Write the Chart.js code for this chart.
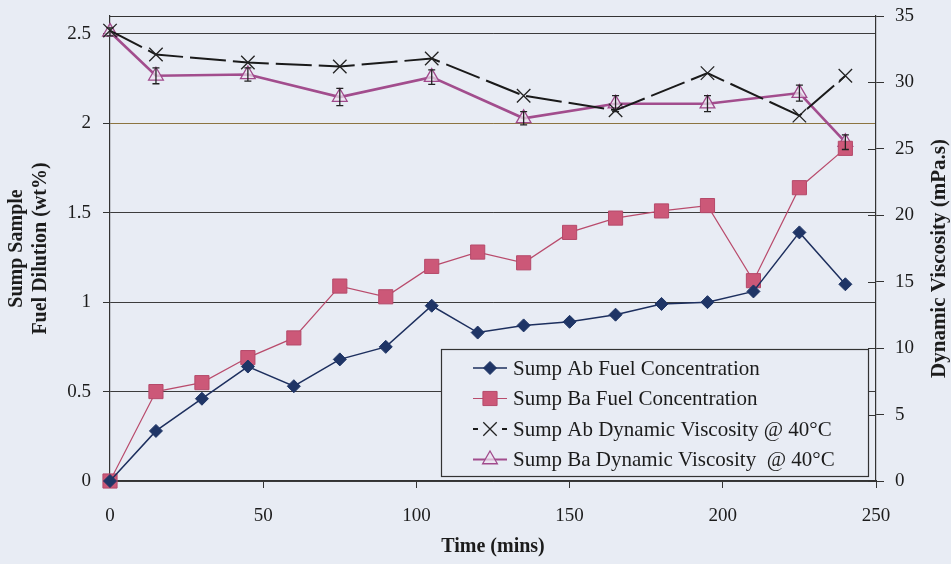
<!DOCTYPE html>
<html>
<head>
<meta charset="utf-8">
<script src="https://cdn.jsdelivr.net/npm/chart.js@4.4.0/dist/chart.umd.min.js"></script>
<style>
  html, body { margin: 0; padding: 0; background: #e8ecf4; }
  #wrap { width: 951px; height: 564px; }
</style>
</head>
<body>
<div id="wrap"><canvas id="fuelChart" width="951" height="564"></canvas></div>
<script>
// --- DATA ---
const timeMins = [0, 15, 30, 45, 60, 75, 90, 105, 120, 135, 150, 165, 180, 195, 210, 225, 240];
const abFuel = [0, 0.28, 0.46, 0.64, 0.53, 0.68, 0.75, 0.98, 0.83, 0.87, 0.89, 0.93, 0.99, 1.00, 1.06, 1.39, 1.10];
const baFuel = [0, 0.50, 0.55, 0.69, 0.80, 1.09, 1.03, 1.20, 1.28, 1.22, 1.39, 1.47, 1.51, 1.54, 1.12, 1.64, 1.86];

const viscTime = [0, 15, 45, 75, 105, 135, 165, 195, 225, 240];
const abVisc = [33.9, 32.1, 31.5, 31.2, 31.8, 29.0, 27.9, 30.7, 27.5, 30.5];
const baVisc = [33.8, 30.5, 30.6, 28.9, 30.4, 27.3, 28.4, 28.4, 29.2, 25.5];
const baViscErr = [0.3, 0.6, 0.5, 0.65, 0.55, 0.5, 0.6, 0.6, 0.6, 0.55];

const xTicks = [0, 50, 100, 150, 200, 250];
const fuelTicks = [0, 0.5, 1, 1.5, 2, 2.5];
const viscTicks = [0, 5, 10, 15, 20, 25, 30, 35];

const legendLabels = [
    'Sump Ab Fuel Concentration',
    'Sump Ba Fuel Concentration',
    'Sump Ab Dynamic Viscosity @ 40°C',
    'Sump Ba Dynamic Viscosity  @ 40°C'
];

const BG = '#e8ecf4';
const INK = '#1c1c1c';
const SERIF = '"Liberation Serif", "Times New Roman", serif';

const toPoints = (xs, ys) => xs.map((x, i) => ({ x: x, y: ys[i] }));
const fixedTicks = (values) => (scale) => { scale.ticks = values.map(v => ({ value: v })); };
const plainLabel = (v) => String(v);

// fixed box sizes so the plot area sits where the original one does
const fitVertical = (w) => (s) => { s.width = w; s.paddingTop = 0; s.paddingBottom = 0; };
const fitHorizontal = (h) => (s) => { s.height = h; s.paddingLeft = 0; s.paddingRight = 0; };

// --- MARKERS (legend) ---
const drawMarker = (ctx, style, x, y, ds) => {
    ctx.save();
    ctx.fillStyle = ds.pointBackgroundColor;
    ctx.strokeStyle = ds.pointBorderColor;
    ctx.lineWidth = ds.pointBorderWidth;
    const r = ds.pointRadius;
    ctx.beginPath();
    if (style === 'rectRot') {
        ctx.moveTo(x, y - r); ctx.lineTo(x + r, y); ctx.lineTo(x, y + r); ctx.lineTo(x - r, y); ctx.closePath();
        ctx.fill(); ctx.stroke();
    } else if (style === 'rect') {
        const s = r * Math.SQRT1_2;
        ctx.rect(x - s, y - s, 2 * s, 2 * s); ctx.fill(); ctx.stroke();
    } else if (style === 'crossRot') {
        const s = r * Math.SQRT1_2;
        ctx.moveTo(x - s, y - s); ctx.lineTo(x + s, y + s);
        ctx.moveTo(x + s, y - s); ctx.lineTo(x - s, y + s); ctx.stroke();
    } else if (style === 'triangle') {
        ctx.moveTo(x, y - r);
        ctx.lineTo(x + r * Math.sin(2 * Math.PI / 3), y - r * Math.cos(2 * Math.PI / 3));
        ctx.lineTo(x - r * Math.sin(2 * Math.PI / 3), y - r * Math.cos(2 * Math.PI / 3));
        ctx.closePath(); ctx.fill(); ctx.stroke();
    }
    ctx.restore();
};

// --- PLUGINS ---
const paperPlugin = {
    id: 'paper',
    beforeDraw(chart) {
        const c = chart.ctx;
        c.save();
        c.fillStyle = BG;
        c.fillRect(0, 0, chart.width, chart.height);
        c.restore();
    }
};

const framePlugin = {
    id: 'frame',
    beforeDatasetsDraw(chart) {
        const { ctx, chartArea } = chart;
        const y1 = chart.scales.y1;
        ctx.save();
        ctx.strokeStyle = '#333';
        ctx.lineWidth = 1;
        ctx.beginPath();
        ctx.moveTo(chartArea.left, chartArea.top + 0.5);
        ctx.lineTo(chartArea.right, chartArea.top + 0.5);
        // inner half of the right axis tick marks
        y1.ticks.forEach(t => {
            const py = Math.round(y1.getPixelForValue(t.value)) + 0.5;
            ctx.moveTo(chartArea.right - 8, py);
            ctx.lineTo(chartArea.right, py);
        });
        ctx.stroke();
        ctx.restore();
    }
};

const errorBarPlugin = {
    id: 'errorBars',
    afterDatasetsDraw(chart) {
        const { ctx } = chart;
        const y1 = chart.scales.y1;
        const xs = chart.scales.x;
        ctx.save();
        ctx.strokeStyle = '#222';
        ctx.lineWidth = 1.3;
        ctx.beginPath();
        viscTime.forEach((t, i) => {
            const px = xs.getPixelForValue(t);
            const top = y1.getPixelForValue(baVisc[i] + baViscErr[i]);
            const bot = y1.getPixelForValue(baVisc[i] - baViscErr[i]);
            ctx.moveTo(px, top); ctx.lineTo(px, bot);
            ctx.moveTo(px - 3.5, top); ctx.lineTo(px + 3.5, top);
            ctx.moveTo(px - 3.5, bot); ctx.lineTo(px + 3.5, bot);
        });
        ctx.stroke();
        ctx.restore();
    }
};

const boxLegendPlugin = {
    id: 'boxLegend',
    afterDraw(chart) {
        const { ctx, chartArea } = chart;
        const boxX = 441, boxY = 349;
        const boxW = chartArea.right - 8 - boxX, boxH = 127;
        ctx.save();
        ctx.fillStyle = BG;
        ctx.fillRect(boxX, boxY, boxW, boxH);
        ctx.strokeStyle = '#333';
        ctx.lineWidth = 1.2;
        ctx.strokeRect(boxX + 0.5, boxY + 0.5, boxW, boxH);

        ctx.font = '21px ' + SERIF;
        ctx.textBaseline = 'middle';
        ctx.textAlign = 'left';
        chart.data.datasets.forEach((ds, i) => {
            const rowY = boxY + 19 + i * 30.5;
            const mx = boxX + 49;
            ctx.save();
            ctx.strokeStyle = ds.borderColor;
            ctx.lineWidth = Math.min(ds.borderWidth, 2);
            if (ds.borderDash) ctx.setLineDash([5, 24]);
            ctx.beginPath();
            ctx.moveTo(mx - 17, rowY);
            ctx.lineTo(mx + 17, rowY);
            ctx.stroke();
            ctx.restore();
            drawMarker(ctx, ds.pointStyle, mx, rowY, ds);
            ctx.fillStyle = INK;
            ctx.fillText(legendLabels[i], boxX + 72, rowY + 1);
        });

        // right axis title, reading bottom to top
        ctx.font = 'bold 21px ' + SERIF;
        ctx.textAlign = 'center';
        ctx.textBaseline = 'middle';
        ctx.fillStyle = INK;
        ctx.translate(940, (chartArea.top + chartArea.bottom) / 2 + 10);
        ctx.rotate(-Math.PI / 2);
        ctx.fillText('Dynamic Viscosity (mPa.s)', 0, 0);
        ctx.restore();
    }
};

// --- CHART ---
const ctx = document.getElementById('fuelChart').getContext('2d');

new Chart(ctx, {
    type: 'line',
    data: {
        datasets: [
            {
                label: legendLabels[0],
                data: toPoints(timeMins, abFuel),
                yAxisID: 'y',
                borderColor: '#1d2f5e',
                borderWidth: 1.5,
                pointStyle: 'rectRot',
                pointRadius: 6.5,
                pointBackgroundColor: '#1f3566',
                pointBorderColor: '#1f3566',
                pointBorderWidth: 1
            },
            {
                label: legendLabels[1],
                data: toPoints(timeMins, baFuel),
                yAxisID: 'y',
                borderColor: '#b94b6c',
                borderWidth: 1.2,
                pointStyle: 'rect',
                pointRadius: 10,
                pointBackgroundColor: '#cc5878',
                pointBorderColor: '#b54a6a',
                pointBorderWidth: 1
            },
            {
                label: legendLabels[2],
                data: toPoints(viscTime, abVisc),
                yAxisID: 'y1',
                borderColor: '#1a1a1a',
                borderWidth: 2,
                borderDash: [36, 7],
                pointStyle: 'crossRot',
                pointRadius: 9.5,
                pointBackgroundColor: 'transparent',
                pointBorderColor: '#222',
                pointBorderWidth: 1.3
            },
            {
                label: legendLabels[3],
                data: toPoints(viscTime, baVisc),
                yAxisID: 'y1',
                borderColor: '#a24d8d',
                borderWidth: 2.6,
                pointStyle: 'triangle',
                pointRadius: 8.5,
                pointBackgroundColor: 'rgba(236,228,240,0.7)',
                pointBorderColor: '#a04a8c',
                pointBorderWidth: 1.3
            }
        ]
    },
    options: {
        responsive: false,
        animation: false,
        clip: false,
        layout: { padding: { top: 16, left: 0, right: 0, bottom: 0 } },
        elements: { line: { tension: 0, fill: false } },
        scales: {
            x: {
                type: 'linear',
                min: 0,
                max: 250,
                afterBuildTicks: fixedTicks(xTicks),
                afterFit: fitHorizontal(83),
                border: { display: true, color: '#333', width: 1.2 },
                grid: { drawOnChartArea: false, tickLength: 7, color: '#333' },
                ticks: { color: INK, padding: 17, font: { family: SERIF, size: 19 }, maxRotation: 0, callback: plainLabel },
                title: {
                    display: true,
                    text: 'Time (mins)',
                    color: INK,
                    padding: { top: 0, bottom: 5 },
                    font: { family: SERIF, size: 20, weight: 'bold', lineHeight: 1.2 }
                }
            },
            y: {
                type: 'linear',
                position: 'left',
                min: 0,
                max: 2.6,
                afterBuildTicks: fixedTicks(fuelTicks),
                afterFit: fitVertical(110),
                border: { display: true, color: '#333', width: 1.2 },
                grid: {
                    tickLength: 7,
                    color: (c) => (c.tick && c.tick.value === 2 ? '#8c7440' : '#3c3c3c'),
                    tickColor: '#333'
                },
                ticks: { color: INK, padding: 12, font: { family: SERIF, size: 19 }, callback: plainLabel },
                title: {
                    display: true,
                    text: ['Sump Sample', 'Fuel Dilution (wt%)'],
                    color: INK,
                    padding: { top: 5, bottom: 0 },
                    font: { family: SERIF, size: 20, weight: 'bold', lineHeight: 1.2 }
                }
            },
            y1: {
                type: 'linear',
                position: 'right',
                min: 0,
                max: 35,
                afterBuildTicks: fixedTicks(viscTicks),
                afterFit: fitVertical(75),
                border: { display: true, color: '#333', width: 1.2 },
                grid: { drawOnChartArea: false, tickLength: 8, color: '#333' },
                ticks: { color: INK, padding: 11, font: { family: SERIF, size: 19 }, callback: plainLabel }
            }
        },
        plugins: {
            legend: { display: false },
            tooltip: { enabled: false }
        }
    },
    plugins: [paperPlugin, framePlugin, errorBarPlugin, boxLegendPlugin]
});
</script>
</body>
</html>
